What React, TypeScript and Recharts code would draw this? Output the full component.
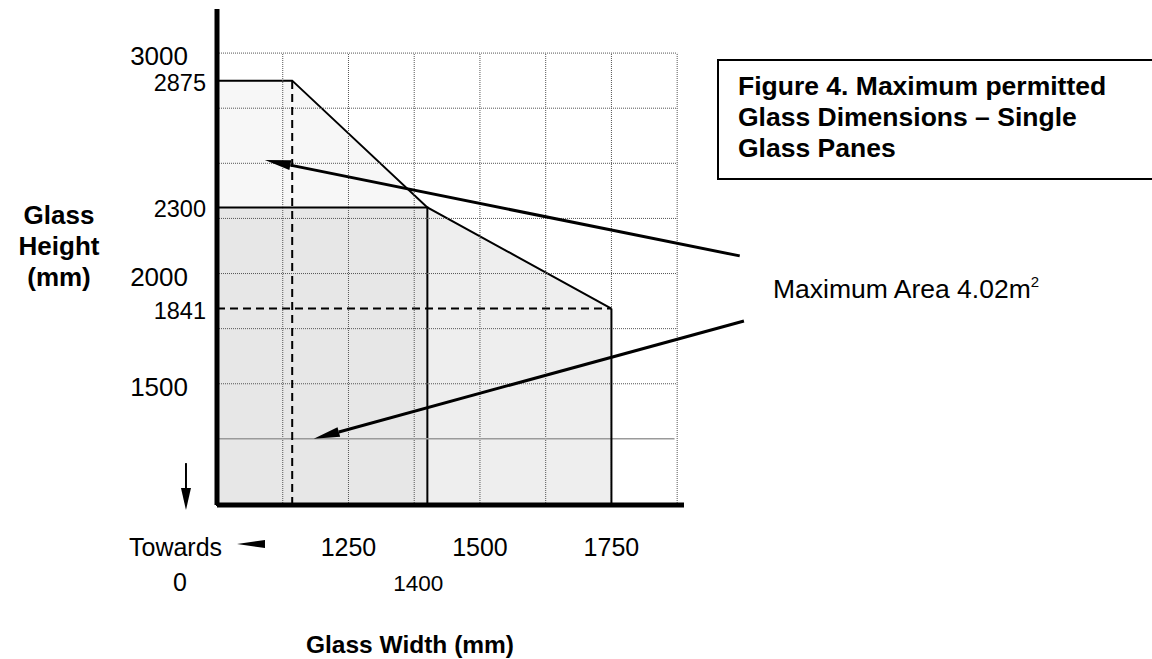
import { Area, ComposedChart, ReferenceArea, ReferenceLine, XAxis, YAxis } from "recharts";

const FONT = '"Liberation Sans", Arial, Helvetica, sans-serif';

// pane envelope (mm)
const widths = [1000, 1143, 1400, 1750];
const maxHeights = [2875, 2875, 2300, 1841];
const outerHeights = [null, null, 2300, 1841];

const innerWidth = 1400;
const innerHeight = 2300;
const dashWidth = 1143;
const dashHeight = 1841;
const edgeWidth = 1750;

const xDomain = [1000, 1888];
const yDomain = [950, 3200];
const xTicks = [1250, 1400, 1500, 1750];
const yTicks = [3000, 2875, 2300, 2000, 1841, 1500];
const xGrid = [1125, 1250, 1375, 1500, 1625, 1750, 1875];
const yGrid = [1500, 1750, 2000, 2250, 2500, 2750, 3000];
const baseLine = 1250;

// callout arrows: tail -> tip (mm)
const calloutArrows = [
  { from: { x: 1994, y: 2080 }, to: { x: 1091, y: 2515 } },
  { from: { x: 2002, y: 1785 }, to: { x: 1184, y: 1250 } },
];
const downArrow = { from: { x: 941, y: 1140 }, to: { x: 941, y: 927 } };
const leftArrow = { from: { x: 1091, y: 773 }, to: { x: 1038, y: 773 } };

const rows = widths.map((w, i) => ({ w, maxH: maxHeights[i], outerH: outerHeights[i] }));

function arrow(lineWidth: number, headLen: number, headHalf: number) {
  return (p: any) => {
    const { x1, y1, x2, y2 } = p;
    const dx = x2 - x1;
    const dy = y2 - y1;
    const len = Math.hypot(dx, dy) || 1;
    const ux = dx / len;
    const uy = dy / len;
    const bx = x2 - ux * headLen;
    const by = y2 - uy * headLen;
    const px = -uy * headHalf;
    const py = ux * headHalf;
    return (
      <g>
        {len > headLen && <line x1={x1} y1={y1} x2={bx} y2={by} stroke="#000" strokeWidth={lineWidth} />}
        <polygon points={`${x2},${y2} ${bx + px},${by + py} ${bx - px},${by - py}`} fill="#000" />
      </g>
    );
  };
}

function HeightTick({ x, y, payload }: any) {
  const major = payload.value % 500 === 0;
  return (
    <text
      x={x - (major ? 29 : 11)}
      y={y + (major ? 3 : 2)}
      textAnchor="end"
      dominantBaseline="central"
      fontFamily={FONT}
      fontSize={major ? 26 : 23.5}
      fill="#000"
    >
      {payload.value}
    </text>
  );
}

function WidthTick({ x, y, payload }: any) {
  const major = payload.value % 250 === 0;
  return (
    <text
      x={x - (major ? 0 : 9)}
      y={y + (major ? 42 : 78)}
      textAnchor="middle"
      dominantBaseline="central"
      fontFamily={FONT}
      fontSize={major ? 25 : 22.5}
      fill="#000"
    >
      {payload.value}
    </text>
  );
}

const abs = (s: React.CSSProperties): React.CSSProperties => ({
  position: "absolute",
  fontFamily: FONT,
  color: "#000",
  whiteSpace: "nowrap",
  ...s,
});

export default function App() {
  return (
    <div style={{ position: "relative", width: 1152, height: 659, overflow: "hidden", background: "#fff" }}>
      <style>{"body{margin:0}"}</style>
      <ComposedChart
        width={1152}
        height={659}
        data={rows}
        margin={{ top: 9, right: 468, bottom: 94, left: 117 }}
      >
        <XAxis
          type="number"
          dataKey="w"
          domain={xDomain}
          ticks={xTicks}
          interval={0}
          height={60}
          tickSize={0}
          tickMargin={0}
          tickLine={false}
          axisLine={{ stroke: "#000", strokeWidth: 5 }}
          tick={WidthTick}
          allowDataOverflow
        />
        <YAxis
          type="number"
          domain={yDomain}
          ticks={yTicks}
          interval={0}
          width={100}
          tickSize={0}
          tickMargin={0}
          tickLine={false}
          axisLine={{ stroke: "#000", strokeWidth: 5 }}
          tick={HeightTick}
          allowDataOverflow
        />

        <Area
          type="linear"
          dataKey="maxH"
          stroke="#000"
          strokeWidth={2}
          fill="#000"
          fillOpacity={0.03}
          dot={false}
          activeDot={false}
          isAnimationActive={false}
        />
        <Area
          type="linear"
          dataKey="outerH"
          stroke="none"
          fill="#000"
          fillOpacity={0.034}
          dot={false}
          activeDot={false}
          isAnimationActive={false}
        />
        <ReferenceArea
          x1={xDomain[0]}
          x2={innerWidth}
          y1={yDomain[0]}
          y2={innerHeight}
          fill="#000"
          fillOpacity={0.062}
          stroke="#000"
          strokeWidth={2}
        />

        {xGrid.map((x) => (
          <ReferenceLine
            key={`vx${x}`}
            segment={[{ x, y: yDomain[0] }, { x, y: yGrid[yGrid.length - 1] }]}
            stroke="#555"
            strokeWidth={1}
            strokeDasharray="1 1"
          />
        ))}
        {yGrid.map((y) => (
          <ReferenceLine
            key={`hy${y}`}
            segment={[{ x: xDomain[0], y }, { x: xGrid[xGrid.length - 1], y }]}
            stroke="#555"
            strokeWidth={1}
            strokeDasharray="1 1"
          />
        ))}
        <ReferenceLine
          segment={[{ x: xDomain[0], y: baseLine }, { x: 1870, y: baseLine }]}
          stroke="#9a9a9a"
          strokeWidth={1.5}
        />

        <ReferenceLine
          segment={[{ x: edgeWidth, y: yDomain[0] }, { x: edgeWidth, y: dashHeight }]}
          stroke="#000"
          strokeWidth={2}
        />
        <ReferenceLine
          segment={[{ x: dashWidth, y: yDomain[0] }, { x: dashWidth, y: maxHeights[0] }]}
          stroke="#000"
          strokeWidth={2}
          strokeDasharray="8 5"
        />
        <ReferenceLine
          segment={[{ x: xDomain[0], y: dashHeight }, { x: edgeWidth, y: dashHeight }]}
          stroke="#000"
          strokeWidth={2}
          strokeDasharray="8 5"
        />

        {calloutArrows.map((a, i) => (
          <ReferenceLine
            key={`ar${i}`}
            segment={[a.from, a.to]}
            ifOverflow="visible"
            shape={arrow(3, 26, 5)}
          />
        ))}
        <ReferenceLine segment={[downArrow.from, downArrow.to]} ifOverflow="visible" shape={arrow(2, 22, 5)} />
        <ReferenceLine segment={[leftArrow.from, leftArrow.to]} ifOverflow="visible" shape={arrow(2, 28, 4)} />
      </ComposedChart>

      <div style={abs({ left: 2, top: 200, width: 114, textAlign: "center", fontWeight: 700, fontSize: 26, lineHeight: "31px" })}>
        Glass
        <br />
        Height
        <br />
        (mm)
      </div>
      <div style={abs({ left: 260, top: 630, width: 300, textAlign: "center", fontWeight: 700, fontSize: 24.5, lineHeight: "30px" })}>
        Glass Width (mm)
      </div>
      <div style={abs({ left: 129, top: 532, fontSize: 25, lineHeight: "30px" })}>Towards</div>
      <div style={abs({ left: 165, top: 567, width: 30, textAlign: "center", fontSize: 25, lineHeight: "30px" })}>0</div>
      <div style={abs({ left: 773, top: 274, fontSize: 26.5, lineHeight: "30px" })}>
        Maximum Area 4.02m
        <span style={{ fontSize: 15, position: "relative", top: -11 }}>2</span>
      </div>
      <div
        style={abs({
          left: 717,
          top: 59,
          width: 520,
          height: 121,
          boxSizing: "border-box",
          border: "2px solid #000",
          padding: "10px 0 0 19px",
          fontWeight: 700,
          fontSize: 26.5,
          lineHeight: "31px",
        })}
      >
        Figure 4. Maximum permitted
        <br />
        Glass Dimensions – Single
        <br />
        Glass Panes
      </div>
    </div>
  );
}
